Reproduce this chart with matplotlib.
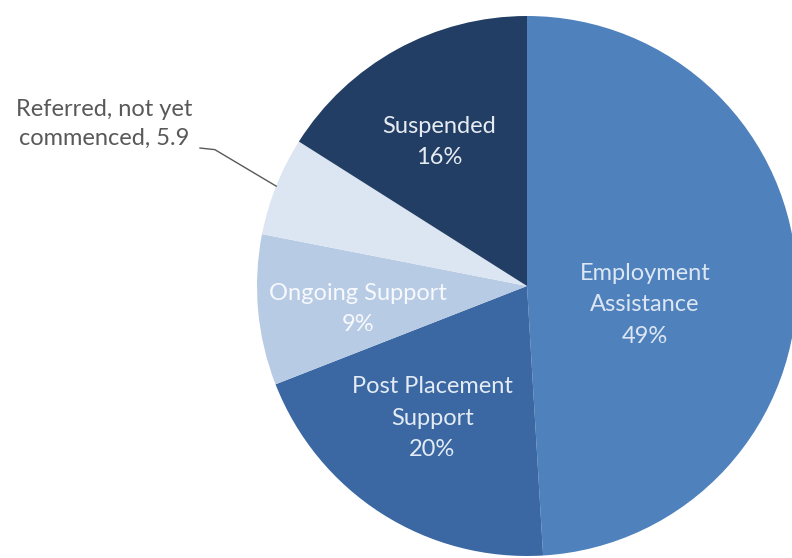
import numpy as np
import matplotlib.pyplot as plt

# slice data, clockwise from 12 o'clock
categories = ["Employment\nAssistance", "Post Placement\nSupport", "Ongoing Support",
              "Referred, not yet\ncommenced", "Suspended"]
values = [49, 20, 9, 5.9, 16]
colors = ["#4F81BD", "#3B68A3", "#B8CBE4", "#DCE6F2", "#233E64"]

plt.rcParams['font.family'] = ['Lato', 'DejaVu Sans']

fig = plt.figure(figsize=(7.92, 5.58), dpi=100)
# axes sized so the pie sits centred at (527, 286) px with r = 270 px
r_px, cx, cy = 270, 527, 286
ax = fig.add_axes([(cx - r_px) / 792, (558 - cy - r_px) / 558,
                   2 * r_px / 792, 2 * r_px / 558])

wedges, _ = ax.pie(values, colors=colors, startangle=90, counterclock=False,
                   radius=1, wedgeprops=dict(linewidth=0))
ax.set_xlim(-1, 1)
ax.set_ylim(-1, 1)
ax.set_aspect('equal')
ax.axis('off')

# inner labels
inner = {0: (0.437, -0.07), 1: (-0.35, -0.489), 2: (-0.626, -0.085), 4: (-0.326, 0.533)}
text_colors = {0: '#DDE7F4', 1: '#E3EBF5', 2: '#F7F9FC', 4: '#E6EBF2'}
for i, (x, y) in inner.items():
    ax.text(x, y, f"{categories[i]}\n{values[i]:.0f}%", ha='center', va='center',
            fontsize=17, color=text_colors[i], linespacing=1.6)

# outside label for the thin slice with a leader line
w = wedges[3]
mid = np.deg2rad((w.theta1 + w.theta2) / 2)
edge = (np.cos(mid), np.sin(mid))
tx, ty = -1.567, 0.60
ax.text(tx, ty, f"{categories[3]}, {values[3]}", ha='center', va='center',
        fontsize=17, color='#595959', linespacing=1.45, clip_on=False)
ax.plot([-1.211, -1.156, edge[0]], [0.511, 0.505, edge[1]], color='#595959',
        lw=1, clip_on=False)

fig.savefig("out.png", dpi=100)
